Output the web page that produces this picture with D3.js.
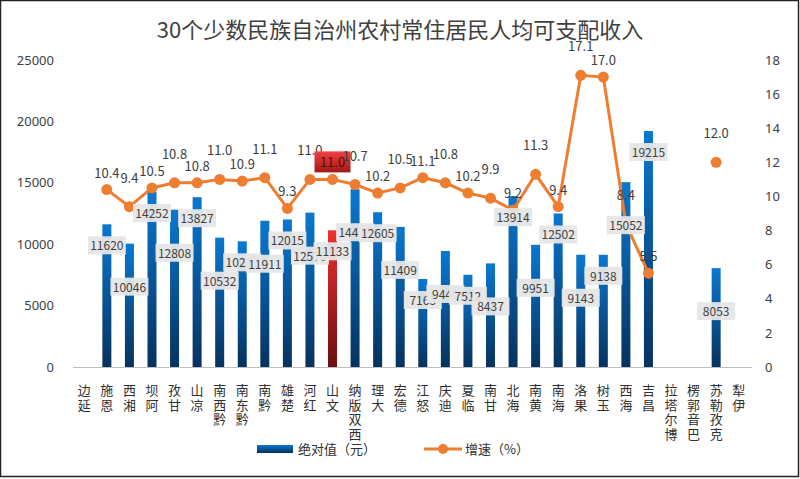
<!DOCTYPE html>
<html><head><meta charset="utf-8">
<script src="https://cdn.jsdelivr.net/npm/d3@7"></script>
<style>body{margin:0;background:#fff;font-family:"Noto Sans CJK SC","Noto Sans",sans-serif;}</style>
</head><body><div id="chart"></div>
<script>
var categories = ["延边","恩施","湘西","阿坝","甘孜","凉山","黔西南","黔东南","黔南","楚雄","红河","文山","西双版纳","大理","德宏","怒江","迪庆","临夏","甘南","海北","黄南","海南","果洛","玉树","海西","昌吉","博尔塔拉","巴音郭楞","克孜勒苏","伊犁"];
var income = [null,11620,10046,14252,12808,13827,10532,10233,11911,12015,12570,11133,14478,12605,11409,7165,9446,7512,8437,13914,9951,12502,9143,9138,15052,19215,null,null,8053,null];
var growth = [null,10.4,9.4,10.5,10.8,10.8,11.0,10.9,11.1,9.3,11.0,11.0,10.7,10.2,10.5,11.1,10.8,10.2,9.9,9.2,11.3,9.4,17.1,17.0,8.4,5.5,null,null,12.0,null];
var highlight = 11;
var leftTicks = [0,5000,10000,15000,20000,25000];
var rightTicks = [0,2,4,6,8,10,12,14,16,18];

var W = 800, H = 479;
var svg = d3.select("#chart").append("svg").attr("width", W).attr("height", H);
var defs = svg.append("defs");
function grad(id, c1, c2) {
  var g = defs.append("linearGradient").attr("id", id).attr("x1", 0).attr("x2", 0).attr("y1", 0).attr("y2", 1);
  g.append("stop").attr("offset", "0%").attr("stop-color", c1);
  g.append("stop").attr("offset", "100%").attr("stop-color", c2);
}
grad("gBlue", "#0a78d0", "#06325e");
grad("gRed", "#f03030", "#6a1010");
grad("gRedBox", "#f04040", "#a01818");

svg.append("rect").attr("x", 0.5).attr("y", 0.5).attr("width", W - 2).attr("height", H - 3)
  .attr("fill", "#fff").attr("stroke", "#222").attr("stroke-width", 1.5);

svg.append("text").attr("x", 400).attr("y", 38).attr("text-anchor", "middle")
  .attr("font-size", 22).attr("fill", "#404040").text("30个少数民族自治州农村常住居民人均可支配收入");

var x = d3.scaleBand().domain(categories).range([73, 750]);
var y = d3.scaleLinear().domain([0, 25000]).range([367, 60]);
var y2 = d3.scaleLinear().domain([0, 18]).range([367, 60]);
var cx = d => x(d) + x.bandwidth() / 2;

svg.append("g").attr("transform", "translate(57,0)")
  .call(d3.axisLeft(y).tickValues(leftTicks).tickSize(0).tickFormat(d3.format("d")))
  .call(g => g.select(".domain").remove())
  .selectAll("text").attr("font-size", 13).attr("fill", "#404040").attr("font-family", "Noto Sans, sans-serif");
svg.append("g").attr("transform", "translate(762,0)")
  .call(d3.axisRight(y2).tickValues(rightTicks).tickSize(0))
  .call(g => g.select(".domain").remove())
  .selectAll("text").attr("font-size", 13).attr("fill", "#404040").attr("font-family", "Noto Sans, sans-serif");

svg.append("line").attr("x1", 73).attr("x2", 752).attr("y1", 367.5).attr("y2", 367.5).attr("stroke", "#bfbfbf");

var data = categories.map((c, i) => ({c: c, v: income[i], g: growth[i], i: i}));

svg.selectAll(".bar").data(data.filter(d => d.v != null)).enter().append("rect")
  .attr("x", d => cx(d.c) - 4.5).attr("width", 9)
  .attr("y", d => y(d.v)).attr("height", d => y(0) - y(d.v))
  .attr("fill", d => d.i === highlight ? "url(#gRed)" : "url(#gBlue)");

// x labels, characters stacked, read bottom to top
data.forEach(function (d) {
  var chars = d.c.split(""), n = chars.length;
  var t = svg.append("text").attr("font-size", 13).attr("fill", "#303030").attr("text-anchor", "middle");
  chars.forEach(function (ch, k) {
    t.append("tspan").attr("x", cx(d.c)).attr("y", 395 + (n - 1 - k) * 14.5).text(ch);
  });
});

var line = d3.line().defined(d => d.g != null).x(d => cx(d.c)).y(d => y2(d.g));
svg.append("path").datum(data).attr("d", line).attr("fill", "none")
  .attr("stroke", "#ed7d31").attr("stroke-width", 3);
svg.selectAll(".pt").data(data.filter(d => d.g != null)).enter().append("circle")
  .attr("cx", d => cx(d.c)).attr("cy", d => y2(d.g)).attr("r", 5.5).attr("fill", "#ed7d31");

// bar labels
data.filter(d => d.v != null).forEach(function (d, k) {
  var lx = cx(d.c), ly = y(d.v) + 22 + (k % 2) * 22;
  svg.append("rect").attr("x", lx - 19).attr("y", ly - 10).attr("width", 38).attr("height", 18)
    .attr("fill", "#e6e6e6").attr("opacity", 0.95);
  svg.append("text").attr("x", lx).attr("y", ly + 4).attr("text-anchor", "middle")
    .attr("font-size", 12).attr("fill", "#404040").text(d.v);
});

// growth labels
data.filter(d => d.g != null).forEach(function (d, k) {
  var lx = cx(d.c), ly = y2(d.g) - 12 - (k % 2) * 12;
  if (d.i === highlight) {
    svg.append("rect").attr("x", lx - 18).attr("y", ly - 16).attr("width", 36).attr("height", 21).attr("fill", "url(#gRedBox)");
  }
  svg.append("text").attr("x", lx).attr("y", ly).attr("text-anchor", "middle")
    .attr("font-size", 13).attr("fill", d.i === highlight ? "#5a0a0a" : "#404040").text(d.g.toFixed(1));
});

// legend
svg.append("rect").attr("x", 257).attr("y", 445).attr("width", 36).attr("height", 8).attr("fill", "url(#gBlue)");
svg.append("text").attr("x", 298).attr("y", 454).attr("font-size", 13).attr("fill", "#303030").text("绝对值（元）");
svg.append("line").attr("x1", 424).attr("x2", 462).attr("y1", 449).attr("y2", 449).attr("stroke", "#ed7d31").attr("stroke-width", 3);
svg.append("circle").attr("cx", 443).attr("cy", 449).attr("r", 5).attr("fill", "#ed7d31");
svg.append("text").attr("x", 465).attr("y", 454).attr("font-size", 13).attr("fill", "#303030").text("增速（%）");
</script></body></html>
